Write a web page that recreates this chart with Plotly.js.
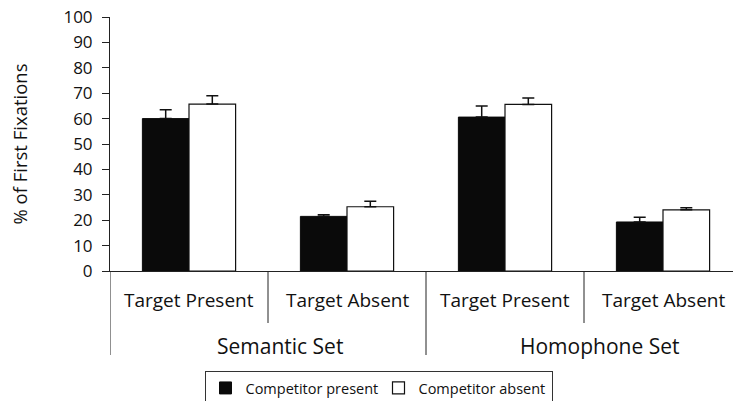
<!DOCTYPE html>
<html>
<head>
<meta charset="utf-8">
<script src="https://cdn.plot.ly/plotly-3.0.1.min.js"></script>
<style>html,body{margin:0;padding:0;background:#fff;}#chart{width:733px;height:401px;}</style>
</head>
<body>
<div id="chart"></div>
<script>
// ---- data ----
const conditions = ["Target Present", "Target Absent", "Target Present", "Target Absent"];
const setLabels = ["Semantic Set", "Homophone Set"];
const seriesNames = ["Competitor present", "Competitor absent"];
const competitorPresent = [60.0, 21.5, 60.6, 19.3];
const competitorPresentErr = [3.5, 0.6, 4.4, 1.9];
const competitorAbsent = [65.7, 25.3, 65.6, 24.1];
const competitorAbsentErr = [3.3, 2.2, 2.5, 0.8];
const yTickVals = [0, 10, 20, 30, 40, 50, 60, 70, 80, 90, 100];

const xIdx = conditions.map((_, i) => i);
const FONT = '"Open Sans", "Noto Sans", sans-serif';
const LINE = '#222';

const traces = [
  {
    type: 'bar', name: seriesNames[0], x: xIdx, y: competitorPresent,
    marker: {color: '#0a0a0a', line: {color: '#0a0a0a', width: 1}},
    error_y: {type: 'data', array: competitorPresentErr, arrayminus: competitorPresentErr.map(() => 0), symmetric: false, color: '#111', thickness: 1.5, width: 6}
  },
  {
    type: 'bar', name: seriesNames[1], x: xIdx, y: competitorAbsent,
    marker: {color: '#ffffff', line: {color: '#111', width: 1.2}},
    error_y: {type: 'data', array: competitorAbsentErr, arrayminus: competitorAbsentErr.map(() => 0), symmetric: false, color: '#111', thickness: 1.5, width: 6}
  }
];

const plotH = 254; // px height of plot area
const pyToPaper = (px) => -px / plotH; // px below x-axis -> paper y

const shapes = [];
for (let b = 0; b <= conditions.length; b++) {
  const isSet = (b % 2 === 0);
  shapes.push({
    type: 'line', xref: 'x', yref: 'paper',
    x0: b - 0.5, x1: b - 0.5,
    y0: 0, y1: pyToPaper(isSet ? 84 : 52),
    line: {color: LINE, width: 1}
  });
}

const annotations = [];
conditions.forEach((c, i) => annotations.push({
  xref: 'x', yref: 'paper', x: i, y: pyToPaper(29), text: c, showarrow: false,
  xanchor: 'center', yanchor: 'middle', font: {family: FONT, size: 19, color: '#111'}
}));
setLabels.forEach((s, j) => annotations.push({
  xref: 'x', yref: 'paper', x: 2 * j + 0.5, y: pyToPaper(75), text: s, showarrow: false,
  xanchor: 'center', yanchor: 'middle', xshift: 12 + 3 * j,
  font: {family: FONT, size: 21, color: '#111'}
}));

const layout = {
  width: 733, height: 401,
  margin: {l: 110, r: 0, t: 17, b: 130, autoexpand: false},
  paper_bgcolor: '#fff', plot_bgcolor: '#fff',
  barmode: 'group', bargap: 0.41, bargroupgap: 0,
  showlegend: true,
  legend: {
    orientation: 'h', x: (378.5 - 110) / 623, xanchor: 'center', y: pyToPaper(100), yanchor: 'top',
    bordercolor: '#333', borderwidth: 1, bgcolor: '#fff',
    font: {family: FONT, size: 14.5, color: '#111'},
    itemwidth: 30, entrywidth: 128, entrywidthmode: 'pixels', tracegroupgap: 0
  },
  xaxis: {
    range: [-0.5, -0.5 + 623 / 158], showgrid: false, zeroline: false,
    showline: true, linecolor: LINE, linewidth: 1,
    tickvals: [], showticklabels: false, fixedrange: true
  },
  yaxis: {
    range: [0, 100], tickvals: yTickVals, showgrid: false, zeroline: false,
    showline: true, linecolor: LINE, linewidth: 1,
    ticks: 'outside', ticklen: 7, tickcolor: LINE, tickwidth: 1,
    ticklabelstandoff: 6,
    tickfont: {family: FONT, size: 17, color: '#111'},
    title: {text: '% of First Fixations', font: {family: FONT, size: 18.5, color: '#111'}, standoff: 30}
  },
  shapes: shapes,
  annotations: annotations,
  font: {family: FONT}
};

Plotly.newPlot('chart', traces, layout, {displayModeBar: false, staticPlot: true});
</script>
</body>
</html>
